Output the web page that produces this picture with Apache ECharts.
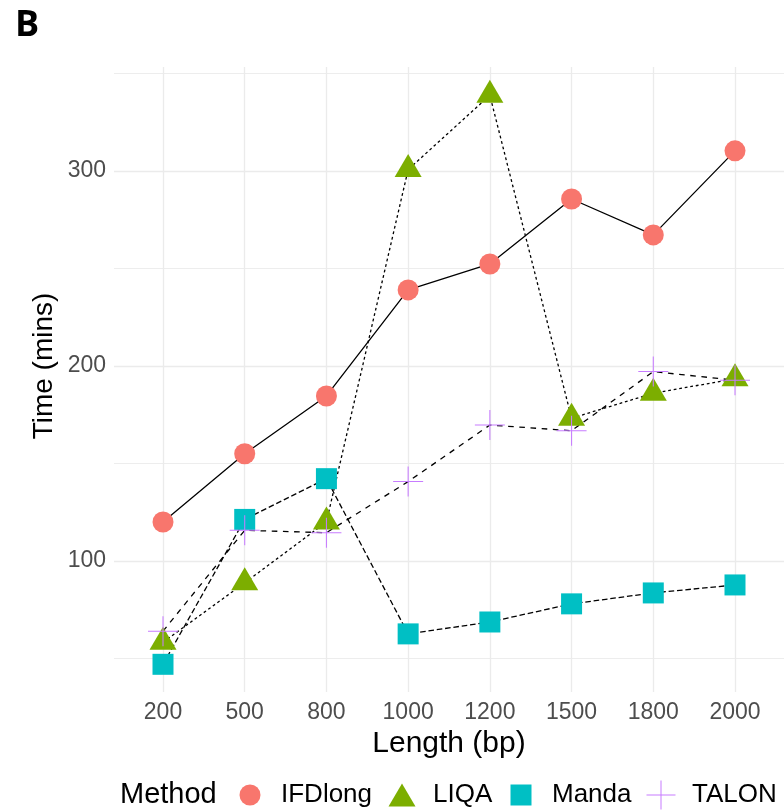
<!DOCTYPE html>
<html>
<head>
<meta charset="utf-8">
<script src="https://cdn.jsdelivr.net/npm/echarts@6/dist/echarts.min.js"></script>
<style>html,body{margin:0;padding:0;background:#fff}#c{width:784px;height:812px}</style>
</head>
<body>
<div id="c"></div>
<script>
var lengths = ['200','500','800','1000','1200','1500','1800','2000'];
var methods = ['IFDlong','LIQA','Manda','TALON'];
var IFDlong = [120, 155, 184.6, 239, 252.3, 285.6, 267.2, 310.3];
var LIQA    = [58.3, 88.8, 120, 300.7, 338.8, 173.2, 186, 193.4];
var Manda   = [47, 121.3, 142.2, 62.6, 68.7, 78, 83.6, 87.7];
var TALON   = [64, 115.7, 114.5, 140.7, 169.7, 166.8, 197.1, 192.7];
var yTicks  = [100, 200, 300];

var colors = {IFDlong:'#F8766D', LIQA:'#7CAE00', Manda:'#00BFC4', TALON:'#C77CFF'};
var crossPath = 'path://M14,0h1v14h14v1h-14v14h-1v-14h-14v-1h14z';
var symbols = {
  IFDlong: {symbol:'circle', size:21, offset:[0,0]},
  LIQA: {symbol:'triangle', size:[27,23], offset:[0,-4]},
  Manda: {symbol:'rect', size:21, offset:[0,0]},
  TALON: {symbol:crossPath, size:30, offset:[0,0]}
};
var dashes = {IFDlong:'solid', LIQA:[2.8,2.8], Manda:[5.6,2.8], TALON:[5.6,5.6]};
var dataMap = {IFDlong:IFDlong, LIQA:LIQA, Manda:Manda, TALON:TALON};

var series = [];
methods.forEach(function(m){
  series.push({
    name:m, type:'line', xAxisIndex:1, yAxisIndex:1, data:dataMap[m],
    showSymbol:false, symbol:'none', z:2, silent:true,
    lineStyle:{color:'#000', width:1.3, type:dashes[m]},
    itemStyle:{color:colors[m]}
  });
});
methods.forEach(function(m, i){
  series.push({
    name:m, type:'scatter', xAxisIndex:1, yAxisIndex:1, data:dataMap[m],
    symbol:symbols[m].symbol, symbolSize:symbols[m].size, symbolOffset:symbols[m].offset,
    z:10+i, itemStyle:{color:colors[m], opacity:1}
  });
});

var legendCenters = [250, 402, 521, 662];
var legendIcons = [
  {icon:'circle', w:21, h:21},
  {icon:'triangle', w:27, h:23},
  {icon:'rect', w:21, h:21},
  {icon:crossPath, w:31, h:29}
];
var legends = methods.map(function(m, i){
  var ic = legendIcons[i];
  return {
    data:[{name:m, icon:ic.icon, itemStyle:{color:colors[m]}}],
    left:legendCenters[i] - ic.w/2, top:795 - Math.max(30, ic.h)/2, orient:'horizontal',
    itemWidth:ic.w, itemHeight:ic.h, itemGap:0,
    padding:0, selectedMode:false, align:'left',
    textStyle:{fontFamily:'Liberation Sans', fontSize:26, lineHeight:30, color:'#000', padding:[0,0,0,26 - ic.w/2]},
    inactiveColor:colors[m]
  };
});

var option = {
  animation:false,
  backgroundColor:'#fff',
  title:{text:'B', left:10, top:3, textStyle:{fontFamily:'Open Sans', fontWeight:'bold', fontSize:36, color:'#000'}},
  graphic:[
    {type:'text', x:120, y:795, style:{text:'Method', font:'29px "Liberation Sans"', fill:'#000', align:'left', verticalAlign:'middle'}},
    {type:'text', x:44, y:366, rotation:Math.PI/2, style:{text:'Time (mins)', font:'28px "Liberation Sans"', fill:'#000', align:'center', verticalAlign:'middle'}}
  ],
  legend:legends,
  grid:[
    {left:114, right:0, top:54, bottom:56, containLabel:false},
    {left:163, right:49, top:67, bottom:120, containLabel:false}
  ],
  xAxis:[
    {type:'value', gridIndex:0, min:0, max:1, show:false},
    {type:'category', gridIndex:1, data:lengths, boundaryGap:false,
      axisLine:{show:false}, axisTick:{show:false},
      axisLabel:{color:'#4D4D4D', fontFamily:'Liberation Sans', fontSize:23, margin:9},
      splitLine:{show:true, lineStyle:{color:'#EBEBEB', width:1.3}},
      name:'Length (bp)', nameLocation:'middle', nameGap:33,
      nameTextStyle:{color:'#000', fontFamily:'Liberation Sans', fontSize:30}}
  ],
  yAxis:[
    {type:'value', gridIndex:0, min:0, max:360, interval:50,
      axisLine:{show:false}, axisTick:{show:false},
      axisLabel:{color:'#4D4D4D', fontFamily:'Liberation Sans', fontSize:23, margin:8,
        formatter:function(v){ return yTicks.indexOf(v) >= 0 ? String(v) : ''; }},
      splitLine:{show:true, showMinLine:false, showMaxLine:false, lineStyle:{color:'#EBEBEB', width:0.9}}},
    {type:'value', gridIndex:1, min:32.8, max:353.3, show:false, splitLine:{show:false}},
    {type:'value', gridIndex:0, min:0, max:360, interval:100, position:'left',
      axisLine:{show:false}, axisTick:{show:false}, axisLabel:{show:false},
      splitLine:{show:true, showMinLine:false, showMaxLine:false, lineStyle:{color:'#EBEBEB', width:1.4}}}
  ],
  series:series
};
var chart = echarts.init(document.getElementById('c'), null, {renderer:'canvas'});
chart.setOption(option);
</script>
</body>
</html>
